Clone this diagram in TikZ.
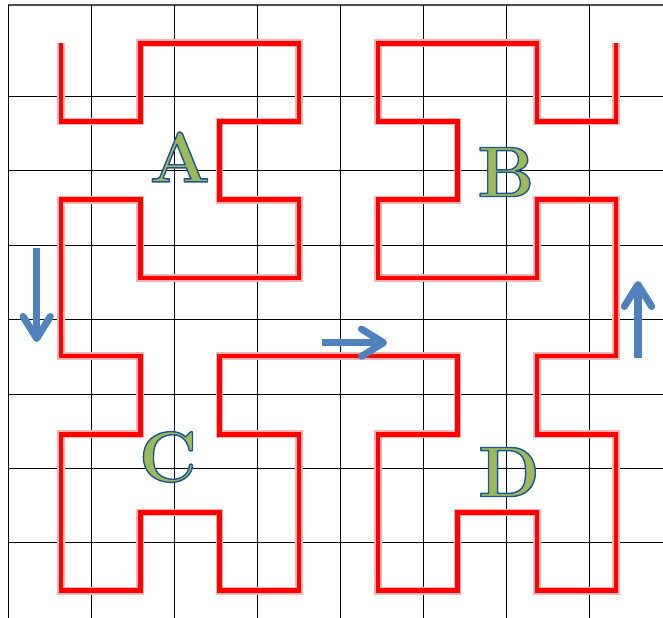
\documentclass[tikz,border=0pt]{standalone}
\usepackage{tikz}
\usetikzlibrary{arrows.meta}

\definecolor{curvered}{RGB}{255,0,0}
\definecolor{arrowblue}{RGB}{79,129,189}
\definecolor{letterfill}{RGB}{155,187,89}
\definecolor{letterline}{RGB}{32,82,150}

% filled letter with a blue outline (text render mode 2)
\newcommand{\outlined}[1]{\textcolor{letterfill}{%
    \special{pdf:literal direct 0.125 0.32 0.59 RG 1.2 w 1 j 2 Tr}#1%
    \special{pdf:literal direct 0 Tr}}}

\begin{document}
\begin{tikzpicture}[
    x=0.03cm, y=-0.03cm,
    gridline/.style={black, line width=0.9pt},
    border/.style={black!70, line width=1.1pt},
    curve/.style={curvered, line width=3.8pt, line join=miter},
    glow/.style={curvered!30, line width=6.5pt, line join=miter},
    quadrant/.style={inner sep=0pt, font=\fontsize{61}{61}\selectfont\bfseries},
    move/.style={arrowblue, line width=6pt, -{Straight Barb[round, length=0.66cm, width=0.82cm]}},
]
    \useasboundingbox (0,0) rectangle (663,618);

    % grid
    \draw [border] (8.3,5) -- (663,5);
    \foreach \k in {0,...,7}
        \draw [gridline] (8.3+83*\k,5) -- (8.3+83*\k,618);
    \foreach \k in {0,...,6}
        \draw [gridline] (8.3,96.5+74.4*\k) -- (663,96.5+74.4*\k);

    % hilbert curve, order 3
    \begin{scope}[shift={(61,43.3)}, xscale=79.3, yscale=78.2]
        \foreach \sty in {glow, curve}
        \draw [\sty] (0,0) -- (0,1) -- (1,1) -- (1,0) -- (3,0) -- (3,1) -- (2,1) -- (2,2)
            -- (3,2) -- (3,3) -- (1,3) -- (1,2) -- (0,2)
            -- (0,4) -- (1,4) -- (1,5) -- (0,5) -- (0,7) -- (1,7) -- (1,6) -- (2,6)
            -- (2,7) -- (3,7) -- (3,5) -- (2,5) -- (2,4)
            -- (5,4) -- (5,5) -- (4,5) -- (4,7) -- (5,7) -- (5,6) -- (6,6) -- (6,7)
            -- (7,7) -- (7,5) -- (6,5) -- (6,4) -- (7,4)
            -- (7,2) -- (6,2) -- (6,3) -- (4,3) -- (4,2) -- (5,2) -- (5,1) -- (4,1)
            -- (4,0) -- (6,0) -- (6,1) -- (7,1) -- (7,0);
    \end{scope}

    % quadrant labels
    \node (qa) [quadrant] at (180,157) {\outlined{A}};
    \node (qb) [quadrant] at (506,172) {\outlined{B}};
    \node (qc) [quadrant] at (168,457) {\outlined{C}};
    \node (qd) [quadrant] at (509,472) {\outlined{D}};

    % direction arrows
    \coordinate (downstart) at (36.7,248);
    \coordinate (downend) at (36.7,342);
    \coordinate (rightstart) at (322,342.7);
    \coordinate (rightend) at (387,342.7);
    \coordinate (upstart) at (638,358);
    \coordinate (upend) at (638,281);

    \draw [move] (downstart) -- (downend);
    \draw [move] (rightstart) -- (rightend);
    \draw [move] (upstart) -- (upend);

\end{tikzpicture}
\end{document}
